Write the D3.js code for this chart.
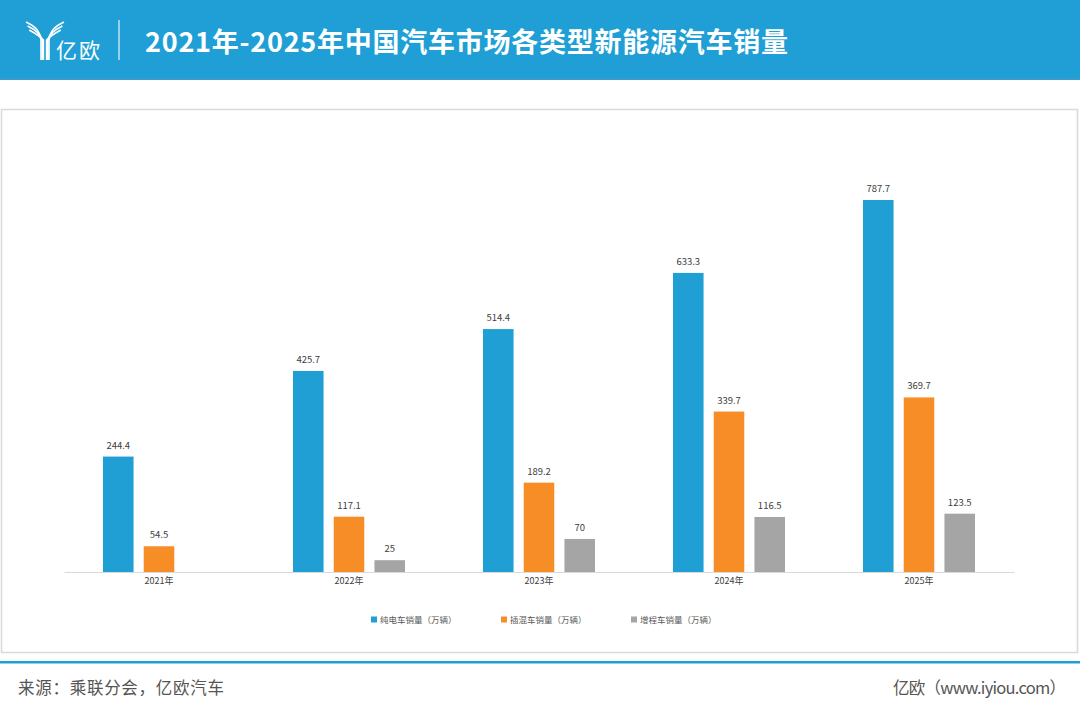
<!DOCTYPE html>
<html>
<head>
<meta charset="utf-8">
<script src="https://cdn.jsdelivr.net/npm/d3@7"></script>
<style>
  body { margin: 0; background: #fff; }
  svg text { font-family: "Noto Sans CJK SC", "Noto Sans", sans-serif; }
</style>
</head>
<body>
<svg id="chart" width="1080" height="716"></svg>
<script>
// data
var years = ["2021年", "2022年", "2023年", "2024年", "2025年"];
var seriesNames = ["纯电车销量（万辆）", "插混车销量（万辆）", "增程车销量（万辆）"];
var bev = [244.4, 425.7, 514.4, 633.3, 787.7];
var phev = [54.5, 117.1, 189.2, 339.7, 369.7];
var erev = [null, 25, 70, 116.5, 123.5];
var colors = ["#1f9fd4", "#f68d26", "#a5a5a5"];

var svg = d3.select("#chart");

// header band
svg.append("rect").attr("x", 0).attr("y", 0).attr("width", 1080).attr("height", 80).attr("fill", "#1f9fd5");
svg.append("rect").attr("x", 0).attr("y", 78).attr("width", 1080).attr("height", 2).attr("fill", "#3a9ccc");

// logo (rough)
var logo = svg.append("g").attr("fill", "none").attr("stroke", "#fff").attr("stroke-width", 1.6);
[0, 4, 8].forEach(function (o) {
  logo.append("path").attr("d", "M" + (26 + o * 0.4) + "," + (22 + o) + " Q" + (40) + "," + (28 + o) + " " + (41 + o * 0.3) + ",40 L" + (41 + o * 0.3) + ",60");
  logo.append("path").attr("d", "M" + (64 - o * 0.4) + "," + (22 + o) + " Q" + (50) + "," + (28 + o) + " " + (49 - o * 0.3) + ",40 L" + (49 - o * 0.3) + ",60");
});
svg.append("text").attr("x", 56).attr("y", 58).attr("fill", "#fff").attr("font-size", 21)
  .attr("textLength", 44).text("亿欧");
svg.append("line").attr("x1", 119).attr("x2", 119).attr("y1", 20).attr("y2", 60).attr("stroke", "#e8f4fb").attr("stroke-width", 1.2);

svg.append("text").attr("x", 145).attr("y", 52).attr("fill", "#fff")
  .attr("font-size", 27).attr("font-weight", "bold")
  .attr("textLength", 643).attr("lengthAdjust", "spacing")
  .text("2021年-2025年中国汽车市场各类型新能源汽车销量");

// chart frame
svg.append("rect").attr("x", 1.5).attr("y", 109.5).attr("width", 1076).attr("height", 543)
  .attr("fill", "#fff").attr("stroke", "#d9d9d9").attr("stroke-width", 1.5);

// scales
var x0 = d3.scaleBand().domain(years).range([64, 1014]).paddingInner(0).paddingOuter(0);
var x1 = d3.scaleBand().domain([0, 1, 2]).range([0, 112]).paddingInner(0.25).paddingOuter(0);
var y = d3.scaleLinear().domain([0, 787.7]).range([572, 200]);

var rows = years.map(function (yr, i) {
  return { year: yr, vals: [bev[i], phev[i], erev[i]] };
});

var groups = svg.selectAll("g.grp").data(rows).enter().append("g")
  .attr("class", "grp")
  .attr("transform", function (d) { return "translate(" + (x0(d.year) + x0.bandwidth() / 2 - 56) + ",0)"; });

var cells = groups.selectAll("g.bar")
  .data(function (d) { return d.vals.map(function (v, k) { return { k: k, v: v }; }).filter(function (c) { return c.v != null; }); })
  .enter().append("g").attr("class", "bar");

cells.append("rect")
  .attr("x", function (d) { return x1(d.k); })
  .attr("width", x1.bandwidth())
  .attr("y", function (d) { return y(d.v); })
  .attr("height", function (d) { return y(0) - y(d.v); })
  .attr("fill", function (d) { return colors[d.k]; });

cells.append("text")
  .attr("x", function (d) { return x1(d.k) + x1.bandwidth() / 2; })
  .attr("y", function (d) { return y(d.v) - 8; })
  .attr("text-anchor", "middle")
  .attr("font-size", 9.5)
  .attr("fill", "#404040")
  .text(function (d) { return d.v; });

// x axis
var xAxis = svg.append("g").attr("transform", "translate(0,572)")
  .call(d3.axisBottom(x0).tickSize(0).tickPadding(6));
xAxis.select(".domain").attr("stroke", "#d9d9d9");
xAxis.selectAll("text").attr("font-size", 9).attr("fill", "#404040")
  .attr("font-family", "\"Noto Sans CJK SC\", sans-serif");

// legend
var legend = svg.selectAll("g.leg").data(seriesNames).enter().append("g")
  .attr("class", "leg")
  .attr("transform", function (d, i) { return "translate(" + (371 + i * 130) + ",620)"; });
legend.append("rect").attr("x", 0).attr("y", -3.5).attr("width", 6).attr("height", 6)
  .attr("fill", function (d, i) { return colors[i]; });
legend.append("text").attr("x", 9).attr("y", 3).attr("font-size", 8.5).attr("fill", "#595959")
  .attr("font-family", "\"Noto Serif CJK SC\", \"Noto Sans CJK SC\", serif")
  .text(function (d) { return d; });

// footer
svg.append("rect").attr("x", 0).attr("y", 661).attr("width", 1080).attr("height", 2.5).attr("fill", "#1f9fd5");
svg.append("text").attr("x", 18).attr("y", 694).attr("font-size", 16.5).attr("fill", "#555")
  .attr("textLength", 206).text("来源：乘联分会，亿欧汽车");
svg.append("text").attr("x", 893).attr("y", 694).attr("font-size", 16.5).attr("fill", "#555")
  .attr("textLength", 173).text("亿欧（www.iyiou.com）");
</script>
</body>
</html>
